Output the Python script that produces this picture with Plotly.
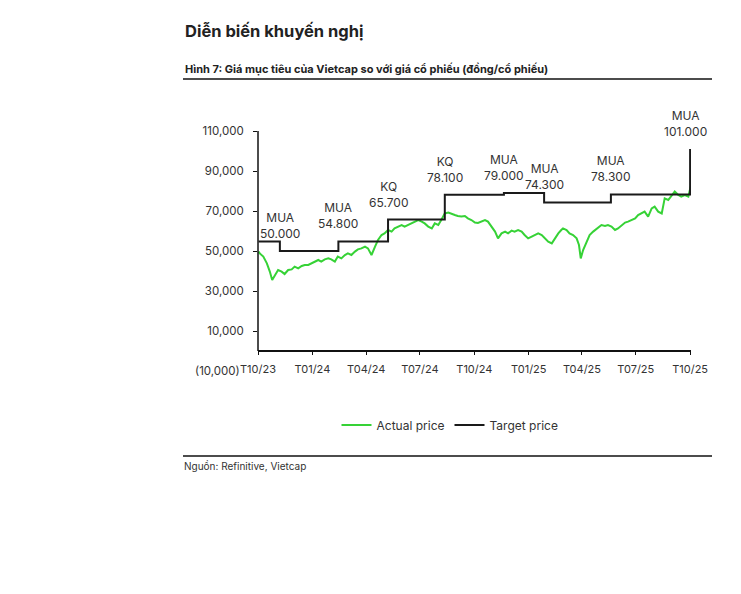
import plotly.graph_objects as go

# giá cổ phiếu thực tế
PRICE_DATES = [
    "2023-10-02", "2023-10-04", "2023-10-10", "2023-10-16", "2023-10-21", "2023-10-25", "2023-10-30",
    "2023-11-04", "2023-11-10", "2023-11-15", "2023-11-21", "2023-11-27", "2023-12-02", "2023-12-08",
    "2023-12-14", "2023-12-19", "2023-12-25", "2023-12-31", "2024-01-05", "2024-01-11", "2024-01-16",
    "2024-01-22", "2024-01-28", "2024-02-02", "2024-02-08", "2024-02-13", "2024-02-19", "2024-02-25",
    "2024-03-01", "2024-03-07", "2024-03-13", "2024-03-18", "2024-03-24", "2024-03-30", "2024-04-04",
    "2024-04-10", "2024-04-16", "2024-04-21", "2024-04-27", "2024-05-02", "2024-05-08", "2024-05-14",
    "2024-05-19", "2024-05-25", "2024-05-31", "2024-06-05", "2024-06-11", "2024-06-17", "2024-06-22",
    "2024-06-28", "2024-07-04", "2024-07-09", "2024-07-15", "2024-07-21", "2024-07-26", "2024-08-01",
    "2024-08-06", "2024-08-12", "2024-08-18", "2024-08-23", "2024-08-29", "2024-09-03", "2024-09-09",
    "2024-09-15", "2024-09-20", "2024-09-26", "2024-10-02", "2024-10-07", "2024-10-13", "2024-10-19",
    "2024-10-24", "2024-10-30", "2024-11-05", "2024-11-10", "2024-11-16", "2024-11-22", "2024-11-27",
    "2024-12-03", "2024-12-08", "2024-12-14", "2024-12-20", "2024-12-25", "2024-12-31", "2025-01-06",
    "2025-01-11", "2025-01-17", "2025-01-23", "2025-01-28", "2025-02-03", "2025-02-09", "2025-02-14",
    "2025-02-20", "2025-02-25", "2025-02-28", "2025-03-06", "2025-03-11", "2025-03-17", "2025-03-23",
    "2025-03-27", "2025-03-30", "2025-04-03", "2025-04-09", "2025-04-14", "2025-04-20", "2025-04-23",
    "2025-04-28", "2025-05-04", "2025-05-10", "2025-05-15", "2025-05-21", "2025-05-27", "2025-06-01",
    "2025-06-07", "2025-06-13", "2025-06-18", "2025-06-24", "2025-06-30", "2025-07-05", "2025-07-11",
    "2025-07-16", "2025-07-22", "2025-07-28", "2025-08-02", "2025-08-08", "2025-08-14", "2025-08-19",
    "2025-08-25", "2025-08-31", "2025-09-05", "2025-09-11", "2025-09-16", "2025-09-22", "2025-09-28",
    "2025-10-02",
]
PRICE_VALUES = [
    49700, 48800, 47200, 43800, 39700, 35500, 38000,
    40500, 39700, 38500, 40500, 40800, 42200, 41300,
    42500, 43000, 43000, 43800, 44700, 45500, 44700,
    45800, 46300, 45800, 44700, 47200, 46300, 48000,
    48800, 48000, 49700, 50800, 51300, 52200, 51300,
    48000, 52200, 55500, 58000, 58800, 60500, 59700,
    61300, 62200, 63000, 62200, 63000, 63800, 64700,
    65500, 64700, 63800, 62200, 61300, 63800, 63000,
    65500, 68800, 69200, 68800, 68000, 67500, 67200,
    67500, 66300, 65500, 64200, 64000, 64700, 65500,
    64700, 62200, 59700, 56300, 58800, 59700, 58800,
    60200, 59700, 60500, 59700, 58000, 56300, 57200,
    58000, 58800, 58000, 56300, 54700, 53800, 56300,
    58800, 60500, 61300, 60500, 58800, 58000, 56300,
    53000, 46300, 50500, 55000, 58000, 59700, 60500,
    61800, 63000, 62500, 63000, 62200, 60500, 61300,
    63000, 64200, 64700, 65500, 66300, 68000, 68800,
    69700, 67200, 71300, 72200, 69700, 68800, 76300,
    75500, 78000, 79700, 78000, 77200, 78000, 77200,
    82200,
]

# giá mục tiêu và khuyến nghị
TARGET_DATES = ["2023-10-02", "2023-11-07", "2024-02-14", "2024-05-08", "2024-08-12",
                "2024-11-20", "2025-01-27", "2025-05-20", "2025-10-01"]
TARGET_VALUES = [54800, 50000, 54800, 65700, 78100, 79000, 74300, 78300, 101000]
REC_LABELS = [None, "MUA", "MUA", "KQ", "KQ", "MUA", "MUA", "MUA", "MUA"]

X_TICKS = ["2023-10-01", "2024-01-01", "2024-04-01", "2024-07-01", "2024-10-01",
           "2025-01-01", "2025-04-01", "2025-07-01", "2025-10-01"]
X_TICK_TEXT = ["T10/23", "T01/24", "T04/24", "T07/24", "T10/24",
               "T01/25", "T04/25", "T07/25", "T10/25"]
Y_TICKS = [-10000, 10000, 30000, 50000, 70000, 90000, 110000]

# trang html có lề body 8px nên trừ bớt
PAGE_W, PAGE_H, BODY = 741, 594, 8
W, H = PAGE_W - BODY, PAGE_H - BODY
L, R, T, B = 258, 691, 131, 371   # vùng vẽ theo pixel của ảnh gốc
FONT = "Inter"


def px(x):
    return (x - L) / (R - L)


def py(y):
    return (B - y) / (B - T)


def fmt_tick(v):
    return f"({abs(v):,})" if v < 0 else f"{v:,}"


fig = go.Figure()
fig.add_trace(go.Scatter(x=PRICE_DATES, y=PRICE_VALUES, mode="lines", name="Actual price",
                         line=dict(color="#36D236", width=2)))
fig.add_trace(go.Scatter(x=TARGET_DATES, y=TARGET_VALUES, mode="lines", name="Target price",
                         line=dict(color="#1a1a1a", width=2, shape="hv")))

# nhãn khuyến nghị trên đường giá mục tiêu
for d, v, lab in zip(TARGET_DATES, TARGET_VALUES, REC_LABELS):
    if lab is None:
        continue
    fig.add_annotation(x=d, y=v, xref="x", yref="y", showarrow=False,
                       text=f"{lab}<br>{v:,}".replace(",", "."),
                       yanchor="bottom", yshift=8, xshift=-5 if v == max(TARGET_VALUES) else 0,
                       font=dict(family=FONT, size=12, color="#333333"))

# nhãn (10,000) ở đáy trục tung
fig.add_annotation(x=0, y=Y_TICKS[0], xref="paper", yref="y", showarrow=False,
                   text=fmt_tick(Y_TICKS[0]), xanchor="right", xshift=-16,
                   font=dict(family=FONT, size=11.5, color="#333333"))

# tiêu đề, nguồn
fig.add_annotation(x=px(183), y=py(31), xref="paper", yref="paper", showarrow=False,
                   text="<b>Diễn biến khuyến nghị</b>", xanchor="left", yanchor="middle",
                   font=dict(family=FONT, size=16.5, color="#222222"))
fig.add_annotation(x=px(183), y=py(69), xref="paper", yref="paper", showarrow=False,
                   text="<b>Hình 7: Giá mục tiêu của Vietcap so với giá cổ phiếu (đồng/cổ phiếu)</b>",
                   xanchor="left", yanchor="middle",
                   font=dict(family=FONT, size=11, color="#222222"))
fig.add_annotation(x=px(182), y=py(466), xref="paper", yref="paper", showarrow=False,
                   text="Nguồn: Refinitive, Vietcap", xanchor="left", yanchor="middle",
                   font=dict(family=FONT, size=10, color="#333333"))

shapes = [
    # đường trục tung chỉ từ 0 lên trên
    dict(type="line", xref="paper", yref="y", x0=0, x1=0, y0=0, y1=Y_TICKS[-1],
         line=dict(color="#111111", width=1.5)),
    # kẻ ngang dưới tiêu đề và trên nguồn
    dict(type="line", xref="paper", yref="paper", x0=px(183), x1=px(712), y0=py(79), y1=py(79),
         line=dict(color="#111111", width=1.5)),
    dict(type="line", xref="paper", yref="paper", x0=px(183), x1=px(712), y0=py(456), y1=py(456),
         line=dict(color="#111111", width=1.5)),
    # dải xanh trên cùng
    dict(type="line", xref="paper", yref="paper", x0=px(168), x1=px(712), y0=py(1), y1=py(1),
         line=dict(color="#73cf6f", width=2.5)),
]

fig.update_layout(
    width=W, height=H,
    margin=dict(l=L - BODY, r=PAGE_W - R, t=T - BODY, b=PAGE_H - B),
    paper_bgcolor="white", plot_bgcolor="white",
    font=dict(family=FONT, size=11.5, color="#333333"),
    showlegend=True,
    legend=dict(orientation="h", x=px(450), y=py(425), xanchor="center", yanchor="middle",
                font=dict(family=FONT, size=12, color="#333333"), itemwidth=30,
                bgcolor="rgba(0,0,0,0)"),
    shapes=shapes,
    xaxis=dict(type="date", range=["2023-10-01", "2025-10-02 12:00"],
               tickvals=X_TICKS, ticktext=X_TICK_TEXT, showgrid=False, zeroline=False,
               showline=True, linecolor="#111111", linewidth=1.5,
               ticks="outside", ticklen=3, tickcolor="#111111",
               anchor="free", position=(0 - Y_TICKS[0]) / (Y_TICKS[-1] - Y_TICKS[0]),
               ticklabelstandoff=5,
               tickfont=dict(family=FONT, size=11, color="#333333")),
    yaxis=dict(range=[Y_TICKS[0], Y_TICKS[-1]], tickvals=Y_TICKS[1:],
               ticktext=[fmt_tick(v) for v in Y_TICKS[1:]],
               showgrid=False, zeroline=False, showline=False,
               ticks="outside", ticklen=4, tickcolor="#111111", ticklabelstandoff=7,
               tickfont=dict(family=FONT, size=11.5, color="#333333")),
)

fig.write_html("out.html")
